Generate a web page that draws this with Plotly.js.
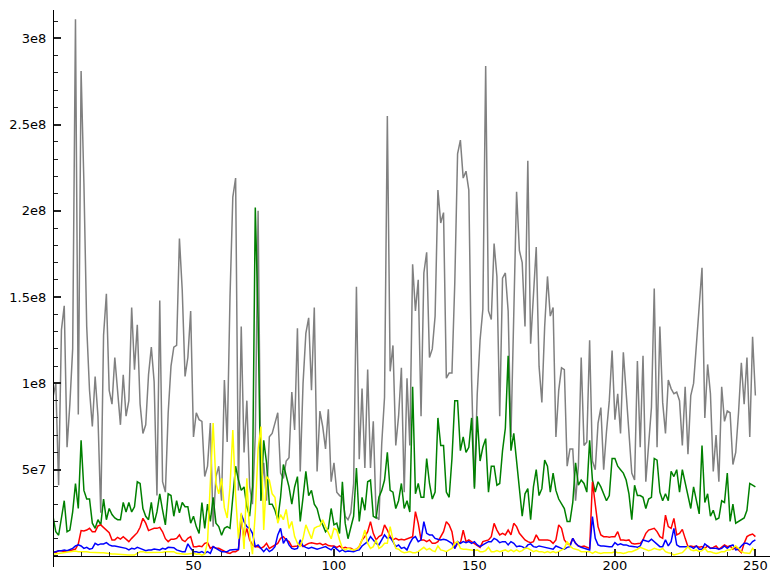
<!DOCTYPE html>
<html><head><meta charset="utf-8">
<script src="https://cdn.plot.ly/plotly-3.0.1.min.js"></script>
<style>html,body{margin:0;padding:0;background:#fff}</style>
</head><body><div id="chart" style="width:780px;height:582px"></div>
<script>
// values in millions
const gray = [92,100,41,131,145,63,88,120,311,82,281,216,133,96,75,104,81,25,128,152,96,88,115,96,76,105,81,90,144,108,134,88,71,76,105,121,101,35,148,43,37,83,110,121,
122,184,154,104,115,142,69,83,79,78,46,52,77,17,46,52,32,102,66,150,208,219,38,133,60,90,40,30,70,200,32,54,32,69,71,77,83,48,45,55,57,95,
73,132,49,100,129,138,96,144,49,84,75,62,85,43,54,37,35,34,23,21,25,42,156,56,97,51,108,51,78,23,21,65,92,255,107,122,64,81,109,37,103,64,169,
142,160,81,164,176,115,120,139,212,193,199,103,106,106,158,233,241,219,223,212,102,40,94,125,143,284,142,137,181,162,81,161,164,142,69,143,211,177,170,133,229,123,
150,179,110,89,133,162,139,144,69,96,109,108,52,62,62,32,52,115,64,66,125,55,50,77,86,50,72,90,119,79,94,71,118,96,75,48,44,113,63,116,43,63,86,155,
63,133,89,71,102,97,94,95,90,64,98,59,93,100,123,141,167,80,111,94,49,70,43,98,78,84,83,53,60,83,112,88,115,69,127,93];
const green = [23,14,12,23,32,14,15,25.5,42,27.5,67,38,33,33,19,16,21,18,33,21,27.5,24,22,21,21,31,25.5,31,25.5,28.5,43,42,27.5,23,21,31,19,25.5,36,26.5,18,36,35,23,
32,25,31,28.5,28.5,19,23,17,13,31,16,30,20,34,19,17,12,16,17,16,34,52,44,38,40,28.5,23,40,202,137,32,67,54,30,30,26.5,21,34,53,47,40,30,
40,46,20,34,49,35,38,30,27.5,21,18,14,16,27.5,18,19,13,43,19,10,17,23,51,20,34,26.5,43,44,23,22,34,38,44,60,38,37,27.5,32,42,27.5,32,25.5,98,
36,42,34,34,56.5,42,33,37,80,64,64,37,34,56.5,90,90,61,69,60,63,80,39,81,55,63,68,37,52,52,41,42,61,74,116,61,71,54,39,23,36,
39,21,40,50,35,39,55.5,52,37,48,38,33,30,27.5,20,20,31,54,41,44,42,37,67,44,37,43,40,36,32,35,56.5,56.5,52,50,48,44,36,21,41,35,35,34,27.5,33,
34,56.5,55.5,37,32,36,32,49,46,50,37,50,42,34,27.5,40,32,24.4,64,31,36,23,26.5,21,22,32,31,48,20,30,19,20,21,22,26.5,42,41,40];
const red = [2.5,2,3,3,2.5,3,3,3.5,4,7,14.7,14.5,15,16,14,14,17.4,18,16.6,15,13.5,9.3,9.3,10.8,9.8,11.2,10,8.3,10.2,12,13.5,16.6,21.8,19,14.7,15.4,16,16,16.6,14,10,8.3,9.7,9.7,
10.2,12.2,9.3,8.3,10.2,11.2,5.4,5.4,5.8,5.4,7.3,7.7,4.4,5.4,4.4,4.4,3.5,2.5,1.9,1.5,2.5,2.5,3.5,20.9,10.2,16,9.3,6.4,5.4,5.4,4.4,5.4,7.3,4.4,5.4,6.4,7.3,10.2,11.2,9.3,8.3,5.4,
5.4,5.8,7,5.4,6.4,7.3,7.7,7.3,7,7.3,6.4,7,6,5.8,5.8,5,5.8,4.4,5,4.4,4.4,3.5,3.9,5.4,9.3,11.2,14.1,19.9,13.1,9.3,11.2,12.2,18,15,11.2,9.3,10.2,9.3,9.7,9.3,9.9,10.2,11.2,
25.7,18.9,9.3,9.3,8.3,9.3,7.3,7.3,8.3,11.2,14.1,19.9,18,14.1,4.4,7.3,7.3,15,8.3,9.3,8.3,7.3,5.8,5,8.3,8.9,9.3,11.2,18.9,15,12.2,13.1,12.2,15,12.2,18.9,17,13.1,11.2,9.3,
8.3,7.7,8.3,12.2,9.3,9.3,9.7,9.3,8.9,7.3,9.3,18,16,9.3,7.3,6.4,10.2,7.3,5.8,5.4,5.8,5,4.4,43,28.6,17,12.2,11.2,11.2,10.8,11.2,11.2,14.1,9.3,9.3,8.9,9.3,7.3,7,7,7.3,9.3,13.1,15,
15.4,16,14.1,11.2,10.2,23.7,17,16,21.8,12.2,13.1,15.4,10.2,5.4,5.8,5.4,5.8,5,5.4,4.4,5.8,4.4,5,5.8,3.9,5.4,6.4,5.4,5.8,3.9,5.4,3.5,1.9,7.3,11.2,12.2,12.7,11.2];
const blue = [2,2.5,3,3,3.5,3,3.5,4.4,5.8,6.4,5.8,4.4,5,3.9,4.4,7.3,6.4,7,7,7.7,6.4,5.8,5.8,5.4,5,5,4.4,3.5,4.4,4,5,4.4,3.5,3,3.5,3.5,4,3.9,3.5,4.4,3.9,5,4.8,4.8,
3.5,2.9,2.5,2.5,7,4.4,2.5,2.5,1.9,2.5,1.5,2.5,1.5,5.4,4.4,3.5,2.5,2.5,2.5,3.5,3.5,3.9,3.9,24.1,19.9,17,16,13.1,5.4,6.4,4.4,2.5,4.4,2.5,3.5,5.4,12.2,16,7.3,10.2,6.4,4.4,
3.9,4.4,9.3,5.8,5,4.4,5,4.4,3.9,4.4,5,5.4,4.4,3.5,5.4,3.9,2.5,3.5,2.5,2.9,2.5,2.5,3.1,3.5,5.8,7,8.3,11.2,8.9,7.3,6.4,9.3,12.2,10.2,10.8,8.3,5.4,6.4,4.4,5,3.5,7.3,10.2,
11.2,8.3,9.3,19.9,13.1,12.2,12.2,10.2,9.7,9.3,9.7,9.3,8.3,7.3,4.4,8.3,7.3,8.3,7.7,8.3,7.3,8.3,6.4,5.4,6.4,7.3,8.3,8.3,10.2,9.3,7.7,8.3,8.3,6.4,8.3,7.3,5.4,5.8,5.4,4.4,
6.4,7,5.4,5,5.8,5.4,5,5,4.4,3.9,5.8,5,4.4,3.9,5,5.4,10.2,7.3,5.8,5,4.4,3.9,3.5,22.8,10.2,6.4,5.8,5.8,5.4,5.4,5.4,7.7,6.4,7,6.4,6.4,5.8,5.8,5.4,5,5.8,9.3,8.9,8.3,
9.7,8.3,6.4,5.4,5.4,9.3,5.8,8.3,16,6.4,5.4,5.4,5.8,5.8,5.4,4.4,5.8,3.9,3.9,7,5.8,4.4,4.4,4.4,3.9,4.4,5.8,4.4,5.8,6.4,3.5,3.9,5.8,7.3,7.3,6.4,8.3,9.3];
const yellow = [1,1.2,1.5,1.5,1.8,2,2.2,2.5,2.8,2.5,2.5,2.8,2.5,2.2,2,2,2,1.8,1.8,1.5,1.5,1.2,1.2,1,1,0.8,0.8,0.6,0.5,0.5,1.5,2.5,2.5,2,2,2,2,2,2.2,2.2,2.5,2.5,2.5,2.5,
1.5,1.2,1,1,1.2,1.5,1.5,1,1.2,
0.5,1,8,45,77,42,36,45,28,22,40,73,35,10,25,4,45,12,1,25,62,75,15,46,44,36,34,19,24,21,27,16,20,
11.2,7.3,5.4,10.2,18,14,10,16,17,17.4,20.9,17,13,10,16,15,9.3,4.4,3.5,4.4,3.9,3.5,3.9,5.4,9.3,15,7.3,4.4,5.4,9.3,4.4,5.4,7.3,7.3,17,9.3,4.4,3.9,2.5,1.9,2.1,2.5,1.9,
1.9,2.5,3.5,5,3.5,4.4,3.1,2.5,5.8,3.5,3.1,2.5,3.5,4.4,7.3,8.3,4.4,3.9,3.9,3.5,3.5,3.1,3.5,2.5,2.5,3.1,5,2.5,2.5,3.1,2.5,3.1,3.5,2.5,3.5,2.5,3.5,2.5,3.1,4.4,
4.4,3.5,2.5,3.1,2.5,2.5,1.9,2.5,1.9,2.5,1.9,2.5,3.5,4.4,8.3,5.8,4.4,3.9,3.5,2.5,2.5,2.5,2.5,1.5,2.5,1.9,1.5,1.9,1.9,1.5,1.9,2.5,1.9,1.9,1.5,1.9,2.5,2.5,3.1,3.9,5,4.4,3.5,3.1,
3.5,4.4,3.9,3.5,4.4,2.5,1.9,1.5,0.6,1.2,1.5,1.9,3.5,5.4,3.5,3.1,3.5,2.5,3.1,4.4,2.5,2.5,1.9,1.5,1.9,2.5,2.5,3.5,3.5,4.4,5.8,4.4,2.5,1.9,1.9,1.5,4.4,2.5];

const UNIT = 1e6;
const xTickVals = [50, 100, 150, 200, 250];
const yTickVals = [5e7, 1e8, 1.5e8, 2e8, 2.5e8, 3e8];
const yTickText = ['5e7', '1e8', '1.5e8', '2e8', '2.5e8', '3e8'];

const series = [
  {name: 'gray', data: gray, color: '#808080'},
  {name: 'green', data: green, color: '#008000'},
  {name: 'red', data: red, color: '#ff0000'},
  {name: 'blue', data: blue, color: '#0000ff'},
  {name: 'yellow', data: yellow, color: '#ffff00'}
];

const traces = series.map(s => ({
  type: 'scatter', mode: 'lines', name: s.name,
  x: s.data.map((_, i) => i),
  y: s.data.map(v => v * UNIT),
  line: {color: s.color, width: 1.5},
  hoverinfo: 'skip'
}));

const yMin = -6.4e6, yMax = 316.4e6;
const layout = {
  width: 780, height: 582,
  margin: {l: 53, r: 10, t: 10, b: 15, pad: 0},
  showlegend: false,
  font: {family: 'DejaVu Sans', size: 13, color: '#000'},
  xaxis: {
    range: [0, 255.2], showgrid: false, zeroline: false,
    anchor: 'free', position: (0 - yMin) / (yMax - yMin),
    showline: true, linecolor: '#000', linewidth: 1.3,
    tickmode: 'array', tickvals: xTickVals, ticktext: xTickVals.map(String),
    ticks: 'inside', ticklen: 7, tickwidth: 1.6, tickcolor: '#222',
    minor: {dtick: 10, ticks: 'inside', ticklen: 4, tickcolor: '#222', tickwidth: 1.3},
    ticklabelstandoff: -3
  },
  yaxis: {
    range: [yMin, yMax], showgrid: false, zeroline: false,
    anchor: 'free', position: 0,
    showline: true, linecolor: '#000', linewidth: 1.3,
    tickmode: 'array', tickvals: yTickVals, ticktext: yTickText,
    ticks: 'inside', ticklen: 7, tickwidth: 1.6, tickcolor: '#222',
    minor: {dtick: 1e7, tick0: 0, ticks: 'inside', ticklen: 4, tickcolor: '#222', tickwidth: 1.3},
    ticklabelstandoff: 4
  }
};

Plotly.newPlot('chart', traces, layout, {displayModeBar: false});
</script>
</body></html>
